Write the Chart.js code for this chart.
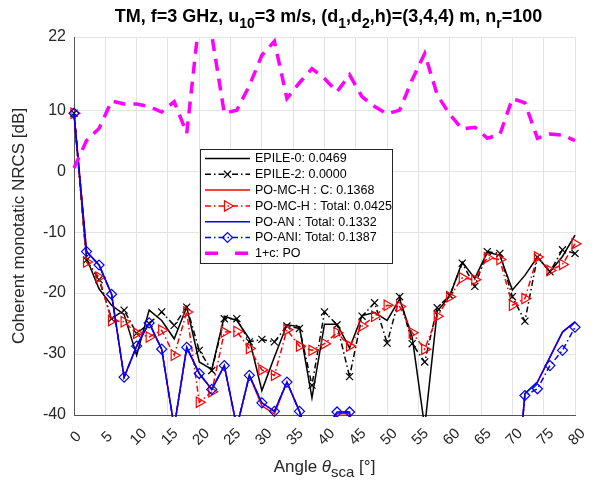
<!DOCTYPE html>
<html>
<head>
<meta charset="utf-8">
<script src="https://cdn.jsdelivr.net/npm/chart.js@4.4.1/dist/chart.umd.min.js"></script>
<style>
  html, body { margin: 0; padding: 0; background: #fff; }
</style>
</head>
<body>
<canvas id="c" width="595" height="485"></canvas>
<script>
// Scattering angle (deg)
const angles = [0, 2, 4, 6, 8, 10, 12, 14, 16, 18, 20, 22, 24, 26, 28, 30, 32, 34, 36, 38, 40,
  42, 44, 46, 48, 50, 52, 54, 56, 58, 60, 62, 64, 66, 68, 70, 72, 74, 76, 78, 80];

// NRCS values in dB (values below -40 are off the axes)
const epile0 = [9.5, -14.3, -19.3, -22, -23.5, -30.2, -22.8, -24.5, -27.5, -22.3, -31.3,
  -32.5, -23.8, -24.5, -27.5, -36, -30.5, -25.2, -25.5, -37.2, -25.1,
  -25.1, -29, -23.7, -23.2, -24.5, -21, -27.2, -42, -23, -20.5,
  -14.9, -17.6, -13.3, -13.8, -19.5, -17.1, -14.1, -16.5, -14, -10.5];
const epile2 = [9.5, -14.6, -17.8, -24.2, -22.8, -26.6, -25, -23.1, -25.3, -22.3, -29.4,
  -32.7, -24.2, -24.2, -28, -27.6, -28, -25.4, -25.8, -35.1, -23.1,
  -25.2, -33.7, -23.8, -21.6, -28.2, -20.6, -28.3, -31.3, -22.4, -20.4,
  -15.1, -18.9, -13.2, -13.5, -20.6, -24.6, -14.1, -16.5, -12.9, -13.5];
const poMcC = [9.5, -13.2, -15.4, -20.2, -33.8, -28.7, -24.9, -29.2, -42, -28.9, -33.2,
  -35.8, -31.9, -42, -33.5, -38.5, -39.8, -34.6, -39.4, -46, -43,
  -39.8, -39.8, -60, -60, -60, -60, -60, -60, -60, -60,
  -60, -60, -60, -60, -60, -36.5, -34.6, -30.5, -26.4, -24.7];
const poMcTotal = [9.5, -14.9, -17.4, -24.5, -24.7, -26.6, -27.2, -26.1, -30.2, -23.1, -37.9,
  -36.2, -26.4, -26.3, -29.1, -32.6, -33.5, -26, -28.7, -29.4, -28.3,
  -26.5, -28.7, -25.4, -23.8, -22, -22.2, -26.5, -29.2, -23.8, -20.6,
  -17.5, -17.8, -14.2, -14.5, -22, -20.9, -14.1, -16.3, -15.3, -11.9];
const poAn = [9.5, -13.2, -15.4, -20.2, -33.8, -28.7, -24.9, -29.2, -42, -28.9, -33.2,
  -35.8, -31.9, -42, -33.5, -38, -39.4, -34.6, -39.4, -46, -43,
  -39.5, -39.5, -60, -60, -60, -60, -60, -60, -60, -60,
  -60, -60, -60, -60, -60, -36.5, -34.6, -30.5, -26.4, -24.7];
const poAni = [9.5, -13.2, -15.4, -20.2, -33.8, -28.7, -24.9, -29.2, -42, -28.9, -33.2,
  -35.8, -31.9, -42, -33.5, -38, -39.4, -34.6, -39.4, -46, -43,
  -39.5, -39.5, -60, -60, -60, -60, -60, -60, -60, -60,
  -60, -60, -60, -60, -60, -36.8, -35.7, -31.9, -29.4, -25.6];
const onePlusC = [0.5, 5, 7, 11.5, 11, 11, 10.6, 9.7, 11.4, 6.2, 25,
  22.3, 9.5, 10, 14, 19, 21.3, 11.9, 14.5, 16.8, 15.2,
  13, 15.8, 12.2, 10.6, 9.4, 10, 15, 19.3, 12.5, 9.3,
  6.9, 7.2, 5.4, 6, 11.9, 11.2, 5.4, 6.1, 5.9, 5];

const seriesLabels = ["EPILE-0: 0.0469", "EPILE-2: 0.0000", "PO-MC-H : C: 0.1368",
  "PO-MC-H : Total: 0.0425", "PO-AN : Total: 0.1332", "PO-ANI: Total: 0.1387", "1+c: PO"];

const xTicks = [0, 5, 10, 15, 20, 25, 30, 35, 40, 45, 50, 55, 60, 65, 70, 75, 80];
const yTicks = [-40, -30, -20, -10, 0, 10, 22];

const FONT = '"Liberation Sans", Arial, Helvetica, sans-serif';
const TEXT = '#262626';

function pts(vals) {
  return angles.map((a, i) => ({ x: a, y: vals[i] }));
}

const markerClip = { left: 8, right: 8, top: 0, bottom: 2 };

const datasets = [
  { data: pts(epile0), borderColor: '#000000', borderWidth: 1.5, pointRadius: 0 },
  { data: pts(epile2), borderColor: '#000000', borderWidth: 1.5, borderDash: [6, 3, 1.5, 3],
    pointStyle: 'crossRot', pointRadius: 5 },
  { data: pts(poMcC), borderColor: '#ff0000', borderWidth: 1.5, pointRadius: 0 },
  { data: pts(poMcTotal), borderColor: '#ff0000', borderWidth: 1.5, borderDash: [6, 3, 1.5, 3],
    pointStyle: 'triangle', pointRotation: 90, pointRadius: 6 },
  { data: pts(poAn), borderColor: '#0000ff', borderWidth: 1.5, pointRadius: 0 },
  { data: pts(poAni), borderColor: '#0000ff', borderWidth: 1.5, borderDash: [6, 3, 1.5, 3],
    pointStyle: 'rectRot', pointRadius: 5 },
  { data: pts(onePlusC), borderColor: '#ff00ff', borderWidth: 3.5, borderDash: [12, 8],
    pointRadius: 0, legendDash: [13, 17] },
];

datasets.forEach((ds, i) => {
  ds.label = seriesLabels[i];
  ds.order = datasets.length - i; // later series drawn on top, like MATLAB
  ds.tension = 0;
  ds.fill = false;
  ds.pointBorderColor = ds.borderColor;
  ds.pointBackgroundColor = 'rgba(0,0,0,0)';
  ds.pointBorderWidth = 1.2;
  ds.clip = markerClip;
});

// draw rich text with subscripts / italics, centred on cx
function drawRich(ctx, parts, cx, y, size, weight, subScale) {
  const fontFor = (p) => (p.it ? 'italic ' : '') + weight + ' ' +
    (p.sub ? Math.round(size * subScale) : size) + 'px ' + FONT;
  let total = 0;
  parts.forEach((p) => { ctx.font = fontFor(p); total += ctx.measureText(p.t).width; });
  let x = cx - total / 2;
  ctx.textAlign = 'left';
  ctx.textBaseline = 'alphabetic';
  parts.forEach((p) => {
    ctx.font = fontFor(p);
    ctx.fillText(p.t, x, y + (p.sub ? size * 0.32 : 0));
    x += ctx.measureText(p.t).width;
  });
}

const decor = {
  id: 'decor',
  afterDraw(chart) {
    const ctx = chart.ctx;
    const area = chart.chartArea;
    const xs = chart.scales.x;
    ctx.save();

    // rotated x tick labels
    ctx.fillStyle = TEXT;
    ctx.font = '15px ' + FONT;
    ctx.textAlign = 'center';
    ctx.textBaseline = 'middle';
    xTicks.forEach((v) => {
      ctx.save();
      ctx.translate(xs.getPixelForValue(v) + 2, area.bottom + 22);
      ctx.rotate(-Math.PI / 4);
      ctx.fillText(String(v), 0, 0);
      ctx.restore();
    });

    // title
    ctx.fillStyle = '#000';
    drawRich(ctx, [
      { t: 'TM, f=3 GHz, u' }, { t: '10', sub: true }, { t: '=3 m/s, (d' },
      { t: '1', sub: true }, { t: ',d' }, { t: '2', sub: true },
      { t: ',h)=(3,4,4) m, n' }, { t: 'r', sub: true }, { t: '=100' },
    ], (area.left + area.right) / 2 + 4, 22, 18, 'bold', 0.75);

    // x axis title
    ctx.fillStyle = TEXT;
    drawRich(ctx, [
      { t: 'Angle ' }, { t: 'θ', it: true }, { t: 'sca', sub: true }, { t: ' [°]' },
    ], (area.left + area.right) / 2, 472, 17, 'normal', 0.9);

    // y axis title
    ctx.save();
    ctx.translate(19, (area.top + area.bottom) / 2);
    ctx.rotate(-Math.PI / 2);
    ctx.font = '17px ' + FONT;
    ctx.textAlign = 'center';
    ctx.textBaseline = 'middle';
    ctx.fillText('Coherent monotatic NRCS [dB]', 0, 0);
    ctx.restore();

    // legend box inside the axes
    const box = { x: 200, y: 149, w: 192, h: 114 };
    ctx.fillStyle = '#fff';
    ctx.fillRect(box.x, box.y, box.w, box.h);
    ctx.strokeStyle = '#262626';
    ctx.lineWidth = 1;
    ctx.setLineDash([]);
    ctx.strokeRect(box.x + 0.5, box.y + 0.5, box.w, box.h);
    chart.data.datasets.forEach((ds, i) => {
      const y = box.y + 9.5 + i * 15.8;
      ctx.strokeStyle = ds.borderColor;
      ctx.lineWidth = ds.borderWidth;
      ctx.setLineDash(ds.legendDash || ds.borderDash || []);
      ctx.beginPath();
      ctx.moveTo(box.x + 5, y);
      ctx.lineTo(box.x + 50, y);
      ctx.stroke();
      ctx.setLineDash([]);
      if (ds.pointRadius > 0) {
        ctx.lineWidth = ds.pointBorderWidth;
        ctx.fillStyle = 'rgba(0,0,0,0)';
        Chart.helpers.drawPoint(ctx, {
          pointStyle: ds.pointStyle, radius: ds.pointRadius,
          rotation: ds.pointRotation || 0, borderWidth: ds.pointBorderWidth,
        }, box.x + 27.5, y);
      }
      ctx.fillStyle = '#000';
      ctx.font = '12.5px ' + FONT;
      ctx.textAlign = 'left';
      ctx.textBaseline = 'middle';
      ctx.fillText(ds.label, box.x + 55, y + 0.5);
    });
    ctx.restore();
  },
};

new Chart(document.getElementById('c').getContext('2d'), {
  type: 'line',
  data: { datasets: datasets },
  plugins: [decor],
  options: {
    responsive: false,
    animation: false,
    layout: { padding: { top: 37, right: 20, left: 0, bottom: 0 } },
    plugins: { legend: { display: false }, title: { display: false }, tooltip: { enabled: false } },
    scales: {
      x: {
        type: 'linear', min: 0, max: 80,
        afterBuildTicks: (s) => { s.ticks = xTicks.map((v) => ({ value: v })); },
        afterFit: (s) => { s.height = 70; },
        ticks: { display: false },
        grid: { color: '#e3e3e3', drawTicks: false },
        border: { display: true, color: '#555555', width: 1 },
      },
      y: {
        type: 'linear', min: -40, max: 22,
        afterBuildTicks: (s) => { s.ticks = yTicks.map((v) => ({ value: v })); },
        afterFit: (s) => { s.width = 74; },
        ticks: { color: TEXT, font: { family: FONT, size: 16 }, padding: 8 },
        grid: { color: '#e3e3e3', drawTicks: false },
        border: { display: true, color: '#555555', width: 1 },
      },
    },
  },
});
</script>
</body>
</html>
